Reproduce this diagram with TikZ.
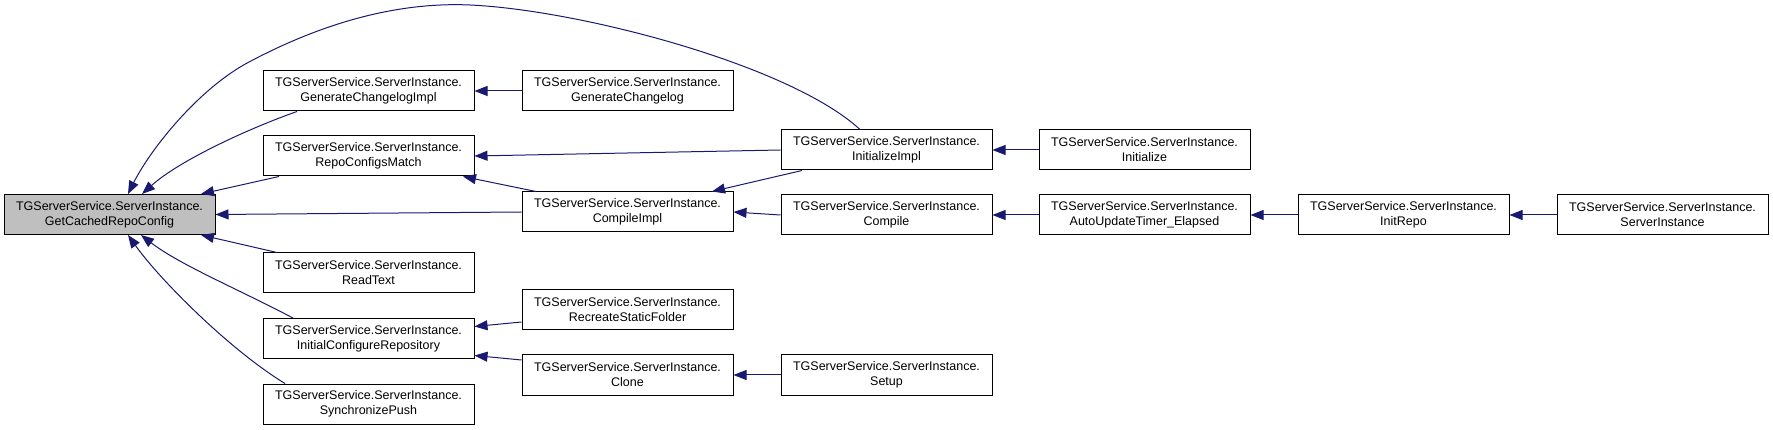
\documentclass[tikz,border=0pt]{standalone}
\usepackage{fontspec}
\setmainfont{Liberation Sans}
\usetikzlibrary{arrows.meta}
\definecolor{edgeblue}{RGB}{25,25,112}
\definecolor{rootgray}{RGB}{191,191,191}
\begin{document}
\begin{tikzpicture}[x=1pt,y=-1pt,
  fn/.style={draw=black,line width=1pt,fill=white,minimum width=211pt,minimum height=40pt,
    inner sep=0pt,align=center,font=\fontsize{12.5}{15}\selectfont},
  rootfn/.style={fn,fill=rootgray},
  edge/.style={draw=edgeblue,line width=1pt,-{Triangle[length=13pt,width=10pt]}}]
\useasboundingbox (0,0) rectangle (1773,430);
% column 1
\node[rootfn] (root) at (109.5,214.5) {TGServerService.ServerInstance.\\GetCachedRepoConfig};
% column 2
\node[fn] (gci) at (368.5,91) {TGServerService.ServerInstance.\\GenerateChangelogImpl};
\node[fn] (rcm) at (368.5,156) {TGServerService.ServerInstance.\\RepoConfigsMatch};
\node[fn] (readtext) at (368.5,273) {TGServerService.ServerInstance.\\ReadText};
\node[fn] (icr) at (368.5,338.5) {TGServerService.ServerInstance.\\InitialConfigureRepository};
\node[fn] (sp) at (368.5,404) {TGServerService.ServerInstance.\\SynchronizePush};
% column 3
\node[fn] (gc) at (627.5,91) {TGServerService.ServerInstance.\\GenerateChangelog};
\node[fn] (compileimpl) at (627.5,212) {TGServerService.ServerInstance.\\CompileImpl};
\node[fn] (rsf) at (627.5,310) {TGServerService.ServerInstance.\\RecreateStaticFolder};
\node[fn] (clone) at (627.5,375) {TGServerService.ServerInstance.\\Clone};
% column 4
\node[fn] (initimpl) at (886.5,150) {TGServerService.ServerInstance.\\InitializeImpl};
\node[fn] (compile) at (886.5,215) {TGServerService.ServerInstance.\\Compile};
\node[fn] (setup) at (886.5,375) {TGServerService.ServerInstance.\\Setup};
% column 5-7
\node[fn] (initialize) at (1144.5,150) {TGServerService.ServerInstance.\\Initialize};
\node[fn] (aute) at (1144.5,215) {TGServerService.ServerInstance.\\AutoUpdateTimer\_Elapsed};
\node[fn] (initrepo) at (1403.5,215) {TGServerService.ServerInstance.\\InitRepo};
\node[fn] (srvinst) at (1662.5,215) {TGServerService.ServerInstance.\\ServerInstance};
% edges to root
\draw[edge] ([xshift=-26.5pt]initimpl.north) .. controls (790,65) and (580,10) .. (470,5)
  .. controls (380,1) and (300,35) .. (249,62)
  .. controls (198,89) and (150,150) .. ([xshift=18.5pt]root.north);
\draw[edge] ([xshift=-71.5pt]gci.south) .. controls (250,128) and (180,160) .. ([xshift=32.5pt]root.north);
\draw[edge] ([xshift=-89.5pt]rcm.south) -- ([xshift=91.5pt]root.north);
\draw[edge] (compileimpl.west) -- (root.east);
\draw[edge] ([xshift=-91.5pt]readtext.north) -- ([xshift=91.5pt]root.south);
\draw[edge] ([xshift=-75.5pt]icr.north) .. controls (240,290) and (180,265) .. ([xshift=31.5pt]root.south);
\draw[edge] ([xshift=-83.5pt]sp.north) .. controls (230,350) and (160,280) .. ([xshift=18.5pt]root.south);
% other edges
\draw[edge] (gc.west) -- (gci.east);
\draw[edge] (initimpl.west) -- (rcm.east);
\draw[edge] ([xshift=-91.5pt]compileimpl.north) -- ([xshift=94.5pt]rcm.south);
\draw[edge] ([xshift=-84.5pt]initimpl.south) -- ([xshift=84.5pt]compileimpl.north);
\draw[edge] (compile.west) -- (compileimpl.east);
\draw[edge] (initialize.west) -- (initimpl.east);
\draw[edge] (aute.west) -- (compile.east);
\draw[edge] (initrepo.west) -- (aute.east);
\draw[edge] (srvinst.west) -- (initrepo.east);
\draw[edge] ([yshift=-12pt]rsf.west) -- ([yshift=12pt]icr.east);
\draw[edge] ([yshift=15pt]clone.west) -- ([yshift=-17pt]icr.east);
\draw[edge] (setup.west) -- (clone.east);
\end{tikzpicture}
\end{document}
